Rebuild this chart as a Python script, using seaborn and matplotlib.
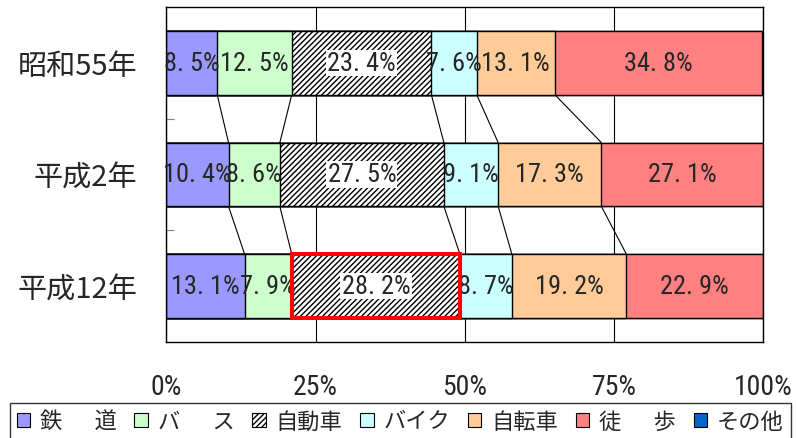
import numpy as np
import matplotlib
matplotlib.use("Agg")
import matplotlib.pyplot as plt
import seaborn as sns
from matplotlib import font_manager
from matplotlib.patches import Patch

# data
years = ["昭和55年", "平成2年", "平成12年"]
modes = ["鉄　  道", "バ　  ス", "自動車", "バイク", "自転車", "徒　  歩", "その他"]
rail = [8.5, 10.4, 13.1]
bus = [12.5, 8.6, 7.9]
car = [23.4, 27.5, 28.2]
bike = [7.6, 9.1, 8.7]
bicycle = [13.1, 17.3, 19.2]
walk = [34.8, 27.1, 22.9]
other = [0.0, 0.0, 0.0]
xticks = [0, 25, 50, 75, 100]
xtick_labels = ["0%", "25%", "50%", "75%", "100%"]

colors = ["#9999FF", "#CCFFCC", "#FFFFFF", "#CCFFFF", "#FFCC99", "#FF8080", "#0066CC"]
hatches = [None, None, "//////", None, None, None, None]

sns.set_style("white")
plt.rcParams["font.family"] = ["Noto Sans CJK JP", "DejaVu Sans"]
plt.rcParams["hatch.linewidth"] = 1.0
plt.rcParams["hatch.color"] = "#333333"

# narrow font for the numbers if there is one
names = {f.name for f in font_manager.fontManager.ttflist}
num_font, num_size, tick_size = "Roboto", 15, 17
for cand in ["Liberation Sans Narrow", "Roboto Condensed"]:
    if cand in names:
        num_font, num_size, tick_size = cand, 19, 20
        break

values = np.array([rail, bus, car, bike, bicycle, walk, other])
cum = values.cumsum(axis=0)
bar_h = 0.571

fig = plt.figure(figsize=(7.97, 4.39), dpi=100)
ax = fig.add_axes([0.2089, 0.2187, 0.7485, 0.7631])

# stacked bars: draw cumulative totals from the last segment back to the first
for i in range(len(modes) - 1, -1, -1):
    sns.barplot(x=cum[i], y=years, order=years, orient="h", color=colors[i],
                saturation=1, width=bar_h, edgecolor="black", linewidth=1,
                hatch=hatches[i], ax=ax, zorder=2)

# connector lines between neighbouring bars
for r in range(len(years) - 1):
    for i in range(len(modes) - 2):
        ax.plot([cum[i][r], cum[i][r + 1]], [r + bar_h / 2, r + 1 - bar_h / 2],
                color="black", lw=0.8, zorder=1)

# value labels
for r in range(len(years)):
    for i in range(len(modes)):
        v = values[i][r]
        if v <= 0:
            continue
        txt = f"{v:.1f}%".replace(".", ". ")
        bbox = dict(facecolor="white", edgecolor="none", pad=1) if hatches[i] else None
        ax.text(cum[i][r] - v / 2, r, txt, ha="center", va="center",
                fontsize=num_size, family=[num_font, "DejaVu Sans"], bbox=bbox, zorder=4)

# highlight box around 自動車 in 平成12年
ax.barh(2, values[2][2], left=cum[1][2], height=bar_h, fill=False,
        edgecolor="red", linewidth=2.9, zorder=5)

ax.set_xlim(0, 100)
ax.set_ylim(2.5, -0.5)
ax.set_xticks(xticks)
ax.set_xticklabels(xtick_labels, family=[num_font, "DejaVu Sans"], fontsize=tick_size)
ax.set_yticks([0.5, 1.5], minor=True)
ax.tick_params(axis="x", length=0, pad=22)
ax.tick_params(axis="y", which="major", length=0, pad=21, labelsize=21)
ax.tick_params(axis="y", which="minor", left=True, direction="in", length=6,
               color="gray", width=0.8)
ax.set_xlabel("")
ax.set_ylabel("")
ax.grid(axis="x", color="black", lw=0.8)
ax.set_axisbelow(True)
for s in ax.spines.values():
    s.set_visible(True)
    s.set_color("black")
    s.set_linewidth(1)

handles = [Patch(facecolor=c, edgecolor="black", hatch=h, linewidth=0.8)
           for c, h in zip(colors, hatches)]
fig.legend(handles, modes, loc="upper left", bbox_to_anchor=(0.0125, 0.08),
           ncol=7, fontsize=16, frameon=True, fancybox=False, edgecolor="black",
           handlelength=0.6, handleheight=0.6, handletextpad=0.45,
           columnspacing=0.8, borderpad=0.3, borderaxespad=0)

fig.savefig("out.png", dpi=100)
